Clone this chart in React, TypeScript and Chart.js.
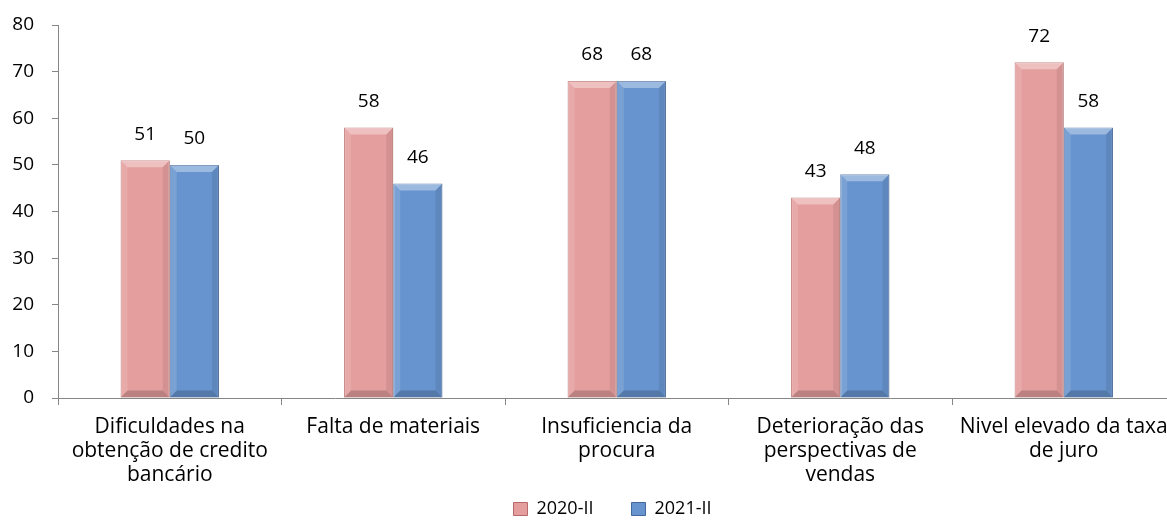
import React, { useEffect, useRef } from "react";
import { Chart, registerables } from "chart.js";

Chart.register(...registerables);

const categories: string[][] = [
  ["Dificuldades na", "obtenção de credito", "bancário"],
  ["Falta de materiais"],
  ["Insuficiencia da", "procura"],
  ["Deterioração das", "perspectivas de", "vendas"],
  ["Nivel elevado da taxa", "de juro"],
];
const series2020: number[] = [51, 58, 68, 43, 72];
const series2021: number[] = [50, 46, 68, 48, 58];
const seriesNames: string[] = ["2020-II", "2021-II"];
const yTicks = { min: 0, max: 80, step: 10 };

const FONT = "'Open Sans', Lato, sans-serif";
const FS = 19;
const RIGHT_OVERFLOW = 8.5;

const bevelPlugin = {
  id: "bevel",
  afterDatasetsDraw(chart: any) {
    const ctx = chart.ctx;
    chart.data.datasets.forEach((_: any, di: number) => {
      const meta = chart.getDatasetMeta(di);
      meta.data.forEach((bar: any) => {
        const { x, y, base, width } = bar.getProps(["x", "y", "base", "width"], true);
        const l = x - width / 2, r = x + width / 2, t = Math.min(y, base), b = Math.max(y, base);
        const bv = Math.min(7, (b - t) / 2);
        const quad = (pts: number[][], fill: string) => {
          ctx.beginPath();
          ctx.moveTo(pts[0][0], pts[0][1]);
          for (let i = 1; i < pts.length; i++) ctx.lineTo(pts[i][0], pts[i][1]);
          ctx.closePath();
          ctx.fillStyle = fill;
          ctx.fill();
        };
        ctx.save();
        quad([[l, t], [r, t], [r - bv, t + bv], [l + bv, t + bv]], "rgba(255,255,255,0.35)");
        quad([[l, t], [l + bv, t + bv], [l + bv, b - bv], [l, b]], "rgba(255,255,255,0.12)");
        quad([[r, t], [r, b], [r - bv, b - bv], [r - bv, t + bv]], "rgba(0,0,0,0.08)");
        quad([[l, b], [l + bv, b - bv], [r - bv, b - bv], [r, b]], "rgba(0,0,0,0.18)");
        ctx.restore();
      });
    });
  },
};

const labelPlugin = {
  id: "valueLabels",
  afterDatasetsDraw(chart: any) {
    const ctx = chart.ctx;
    ctx.save();
    ctx.font = `${FS}px ${FONT}`;
    ctx.fillStyle = "#000";
    ctx.textAlign = "center";
    ctx.textBaseline = "middle";
    chart.data.datasets.forEach((ds: any, di: number) => {
      const meta = chart.getDatasetMeta(di);
      meta.data.forEach((bar: any, i: number) => {
        ctx.fillText(String(Math.round(ds.data[i])), bar.x, bar.y - 26);
      });
    });
    ctx.restore();
  },
};

// let the category labels run below the x scale box, and let the plot run slightly past the right edge
const extendXPlugin = {
  id: "extendX",
  afterLayout(chart: any) {
    const x = chart.scales.x;
    if (!x) return;
    x.bottom = chart.height;
    x.right = x.right + RIGHT_OVERFLOW;
    x.width = x.right - x.left;
    x.configure();
    chart.chartArea.right += RIGHT_OVERFLOW;
    chart.chartArea.width += RIGHT_OVERFLOW;
  },
};

export default function App() {
  const ref = useRef<HTMLCanvasElement | null>(null);
  useEffect(() => {
    document.body.style.margin = "0";
    const chart = new Chart(ref.current!, {
      type: "bar",
      data: {
        labels: categories,
        datasets: [
          {
            label: seriesNames[0],
            data: series2020,
            backgroundColor: "#E59E9E",
            borderColor: "#B86A6A",
            borderWidth: 1,
          },
          {
            label: seriesNames[1],
            data: series2021,
            backgroundColor: "#6794CE",
            borderColor: "#41679C",
            borderWidth: 1,
          },
        ],
      },
      options: {
        animation: false,
        responsive: true,
        maintainAspectRatio: false,
        layout: { padding: { top: 25, right: 0, left: 0, bottom: -7 } },
        datasets: { bar: { categoryPercentage: 0.44, barPercentage: 1 } },
        scales: {
          x: {
            grid: { drawOnChartArea: false, tickLength: 7, color: "#868686", offset: true },
            border: { color: "#868686" },
            ticks: {
              color: "#000",
              font: { family: FONT, size: 21, lineHeight: 24 / 21 },
              maxRotation: 0,
              autoSkip: false,
              padding: 10,
            },
            afterFit: (s: any) => {
              s.height = 64;
              s.paddingLeft = 0;
              s.paddingRight = 0;
            },
          },
          y: {
            min: yTicks.min,
            max: yTicks.max,
            grid: { drawOnChartArea: false, tickLength: 6, color: "#868686" },
            border: { color: "#868686" },
            ticks: {
              stepSize: yTicks.step,
              color: "#000",
              font: { family: FONT, size: FS },
              padding: 18,
            },
            afterFit: (s: any) => {
              s.width = 58;
              s.paddingTop = 0;
              s.paddingBottom = 0;
            },
          },
        },
        plugins: {
          legend: {
            position: "bottom",
            fullSize: false,
            labels: {
              color: "#000",
              font: { family: FONT, size: 18, lineHeight: 1 },
              boxWidth: 14,
              boxHeight: 13,
              padding: 38,
            },
          },
          tooltip: { enabled: false },
        },
      },
      plugins: [bevelPlugin, labelPlugin, extendXPlugin],
    });
    return () => chart.destroy();
  }, []);
  return (
    <div style={{ position: "fixed", left: 0, top: 0, width: 1167, height: 521 }}>
      <canvas ref={ref} />
    </div>
  );
}
